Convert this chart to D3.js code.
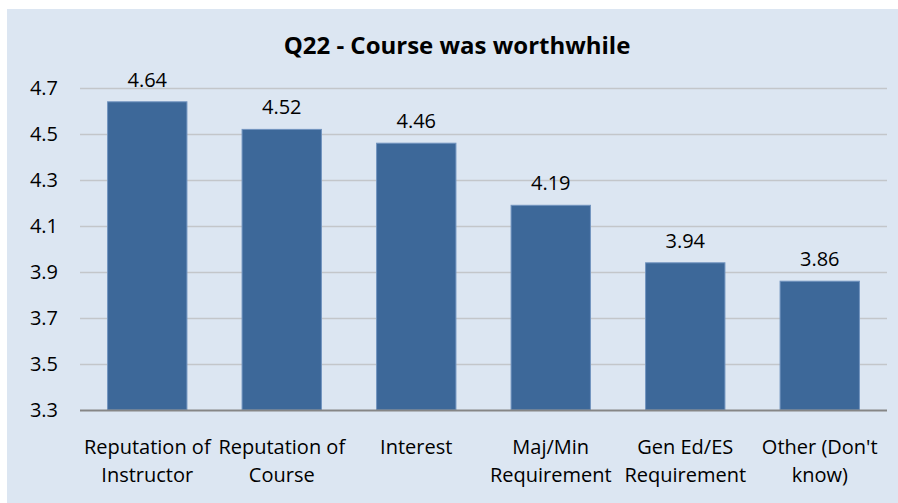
<!DOCTYPE html>
<html>
<head>
<meta charset="utf-8">
<script src="https://cdn.jsdelivr.net/npm/d3@7"></script>
<style>
  html, body { margin: 0; padding: 0; background: #ffffff; }
  svg { display: block; }
  text { font-family: "Open Sans", Lato, sans-serif; fill: #000; }
</style>
</head>
<body>
<script>
const categories = [
  ["Reputation of", "Instructor"],
  ["Reputation of", "Course"],
  ["Interest"],
  ["Maj/Min", "Requirement"],
  ["Gen Ed/ES", "Requirement"],
  ["Other (Don't", "know)"]
];
const values = [4.64, 4.52, 4.46, 4.19, 3.94, 3.86];
const yTicks = [3.3, 3.5, 3.7, 3.9, 4.1, 4.3, 4.5, 4.7];
const title = "Q22 - Course was worthwhile";

const W = 898, H = 503;
const svg = d3.select("body").append("svg").attr("width", W).attr("height", H);

svg.append("rect").attr("x", 7).attr("y", 9).attr("width", W - 7).attr("height", H - 9)
  .attr("fill", "#dce6f2");

const plot = { left: 80, right: 887, top: 88, bottom: 410 };

const x = d3.scaleBand().domain(d3.range(categories.length))
  .range([plot.left, plot.right]).paddingInner(0.41).paddingOuter(0.205);
const y = d3.scaleLinear().domain([3.3, 4.7]).range([plot.bottom, plot.top]);

// gridlines
svg.append("g").selectAll("line").data(yTicks.slice(1)).join("line")
  .attr("x1", plot.left).attr("x2", plot.right)
  .attr("y1", d => Math.round(y(d)) + 0.5).attr("y2", d => Math.round(y(d)) + 0.5)
  .attr("stroke", "#c3c6ca").attr("stroke-width", 1.5);

// y axis labels
const yAxis = d3.axisLeft(y).tickValues(yTicks).tickFormat(d3.format(".1f")).tickSize(0).tickPadding(22);
const gy = svg.append("g").attr("transform", `translate(${plot.left},0)`).call(yAxis);
gy.select(".domain").remove();
gy.selectAll("text").style("font-size", "20px").style("font-family", "'Open Sans', Lato, sans-serif").attr("fill", "#000");

// bars
svg.append("g").selectAll("rect").data(values).join("rect")
  .attr("x", (d, i) => x(i)).attr("width", x.bandwidth())
  .attr("y", d => y(d)).attr("height", d => y(3.3) - y(d))
  .attr("fill", "#3d6899").attr("stroke", "#7294bf").attr("stroke-width", 1);

// baseline axis
svg.append("line").attr("x1", plot.left).attr("x2", plot.right)
  .attr("y1", plot.bottom + 0.5).attr("y2", plot.bottom + 0.5)
  .attr("stroke", "#868686").attr("stroke-width", 2);

// data labels
svg.append("g").selectAll("text").data(values).join("text")
  .attr("x", (d, i) => x(i) + x.bandwidth() / 2).attr("y", d => y(d) - 15)
  .attr("text-anchor", "middle").style("font-size", "20px")
  .text(d => d.toFixed(2));

// category labels
const xl = svg.append("g").selectAll("text").data(categories).join("text")
  .attr("x", (d, i) => x(i) + x.bandwidth() / 2).attr("y", 454)
  .attr("text-anchor", "middle").style("font-size", "20px");
xl.selectAll("tspan").data(d => d).join("tspan")
  .attr("x", function() { return d3.select(this.parentNode).attr("x"); })
  .attr("dy", (d, i) => i === 0 ? 0 : 28)
  .text(d => d);

// title
svg.append("text").attr("x", 457).attr("y", 54).attr("text-anchor", "middle")
  .style("font-size", "24px").style("font-weight", "bold").text(title);
</script>
</body>
</html>
